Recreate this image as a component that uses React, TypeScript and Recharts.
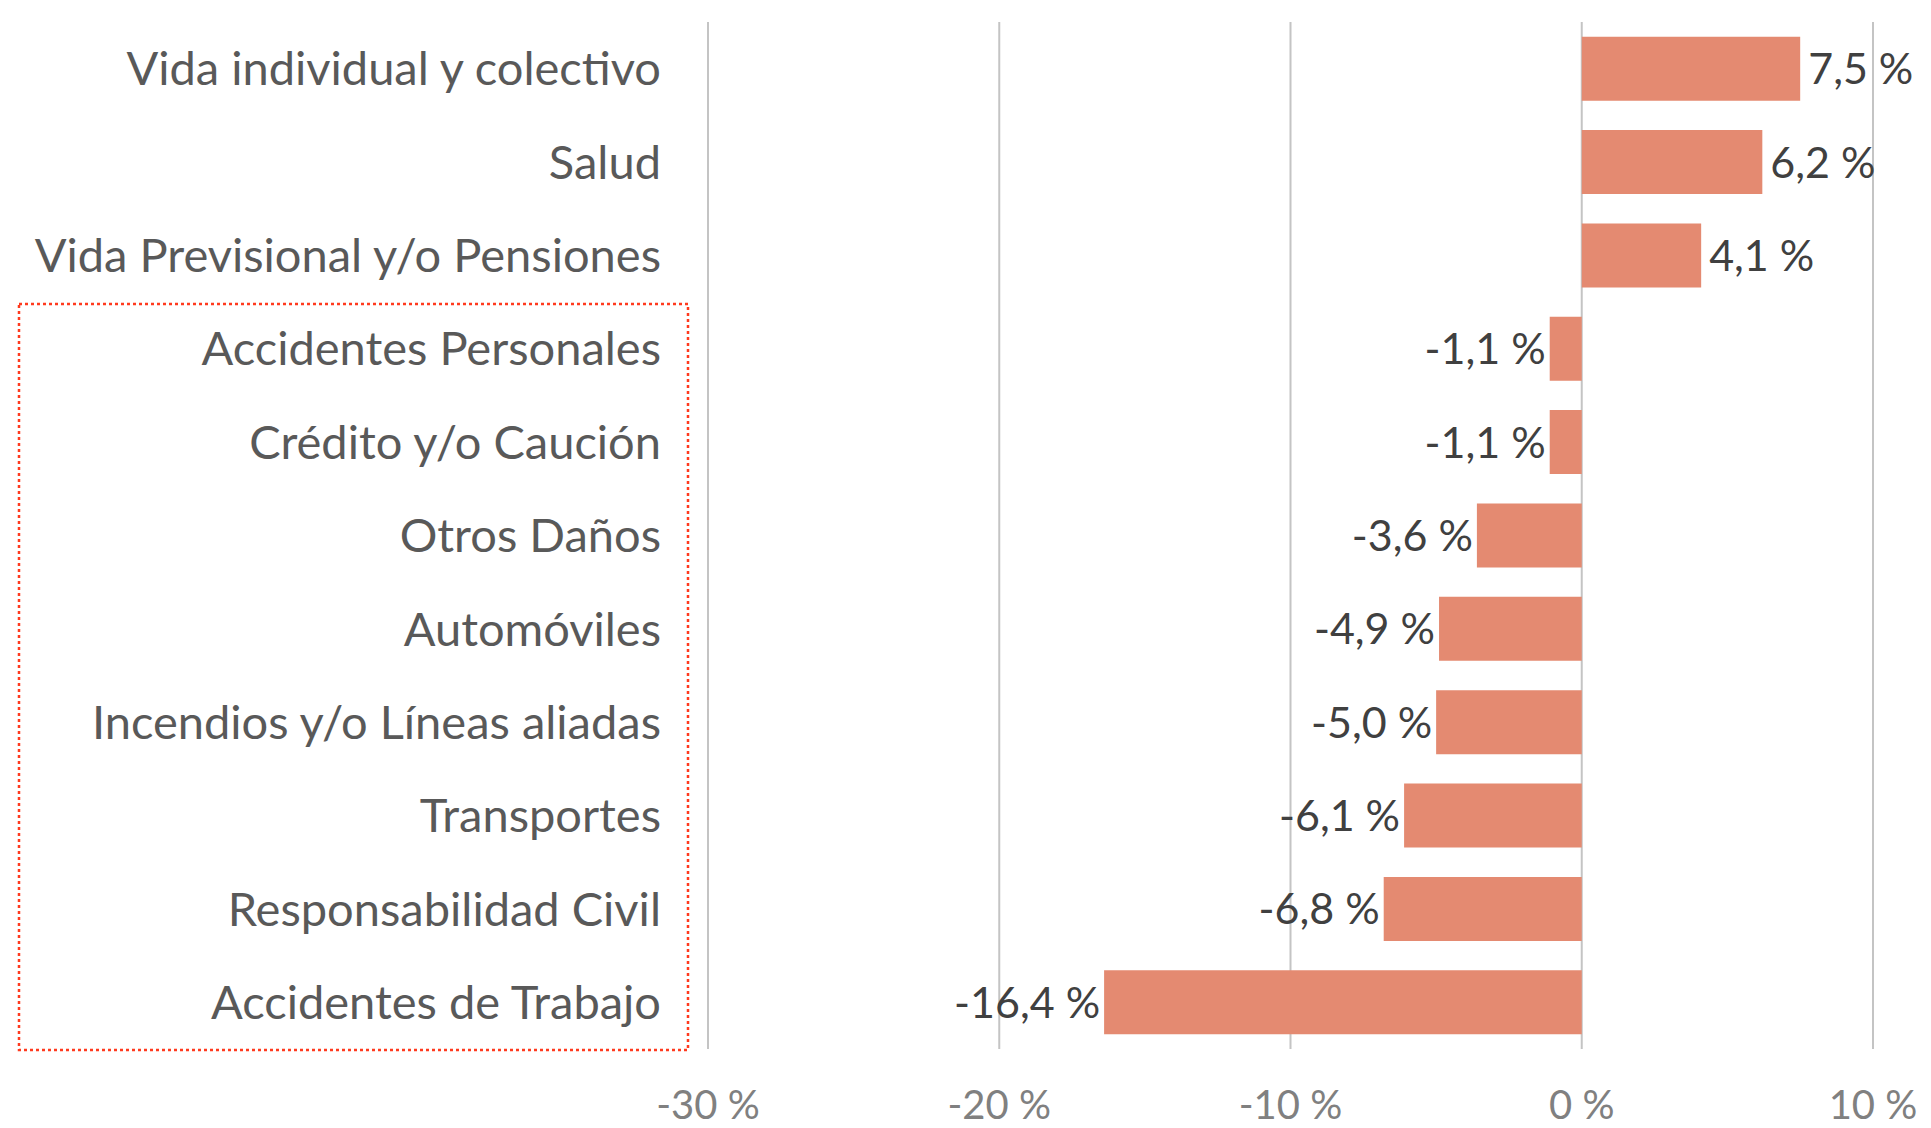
import { BarChart, Bar, XAxis, YAxis, CartesianGrid, LabelList } from 'recharts'

const categories = [
  'Vida individual y colectivo',
  'Salud',
  'Vida Previsional y/o Pensiones',
  'Accidentes Personales',
  'Crédito y/o Caución',
  'Otros Daños',
  'Automóviles',
  'Incendios y/o Líneas aliadas',
  'Transportes',
  'Responsabilidad Civil',
  'Accidentes de Trabajo',
]

const variation = [7.5, 6.2, 4.1, -1.1, -1.1, -3.6, -4.9, -5.0, -6.1, -6.8, -16.4]

const xTicks = [-30, -20, -10, 0, 10]

const data = categories.map((name, i) => ({ name, value: variation[i] }))

const FONT = 'Lato, "Noto Sans", sans-serif'

const fmt = (v: number) => `${v.toFixed(1).replace('.', ',')} %`

const ValueLabel = (props: any) => {
  const { x, y, width, height, value } = props
  const left = Math.min(x, x + width)
  const right = Math.max(x, x + width)
  const cy = y + height / 2
  const neg = value < 0
  return (
    <text
      x={neg ? left - 4 : right + 8}
      y={cy}
      dy="0.36em"
      textAnchor={neg ? 'end' : 'start'}
      fontSize={43}
      fontFamily={FONT}
      fill="#404040"
    >
      {fmt(value)}
    </text>
  )
}

export default function App() {
  return (
    <div style={{ position: 'absolute', left: 0, top: 0, width: 1931, height: 1128, background: '#fff' }}>
      <BarChart
        width={1931}
        height={1128}
        data={data}
        layout="vertical"
        margin={{ top: 22, right: 58, left: 0, bottom: 0 }}
        barCategoryGap="15.7%"
      >
        <CartesianGrid horizontal={false} stroke="#c4c4c4" strokeWidth={2} />
        <XAxis
          type="number"
          domain={[-30, 10]}
          ticks={xTicks}
          axisLine={false}
          tickLine={false}
          tickSize={0}
          tickMargin={42}
          height={79}
          tickFormatter={(v: number) => `${v} %`}
          tick={{ fontSize: 40, fill: '#808080', fontFamily: FONT }}
        />
        <YAxis
          type="category"
          dataKey="name"
          width={708}
          axisLine={false}
          tickLine={false}
          tickSize={0}
          tickMargin={47}
          interval={0}
          tick={{ fontSize: 47, fill: '#595959', fontFamily: FONT }}
        />
        <Bar dataKey="value" fill="#E48A71" isAnimationActive={false}>
          <LabelList dataKey="value" content={ValueLabel} />
        </Bar>
      </BarChart>
      <svg
        width={1931}
        height={1128}
        style={{ position: 'absolute', left: 0, top: 0, pointerEvents: 'none' }}
      >
        <rect
          x={19}
          y={304}
          width={669}
          height={746}
          fill="none"
          stroke="#FF3A1E"
          strokeWidth={2.5}
          strokeDasharray="3 3"
        />
      </svg>
    </div>
  )
}
